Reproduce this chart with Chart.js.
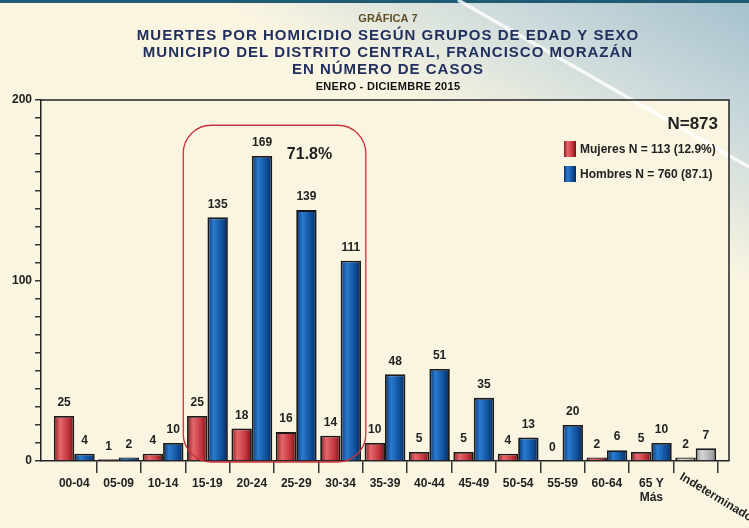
<!DOCTYPE html>
<html>
<head>
<meta charset="utf-8">
<script src="https://cdn.jsdelivr.net/npm/chart.js@4.4.1/dist/chart.umd.min.js"></script>
<style>
html, body { margin: 0; padding: 0; }
body {
	width: 749px; height: 528px; overflow: hidden;
	background:
		linear-gradient(#1f5c74, #1f5c74) top left / 100% 3px no-repeat,
		linear-gradient(208deg, rgba(160,190,204,0.95) 0px, rgba(192,211,218,0.8) 120px, rgba(250,245,225,0) 250px),
		#faf5e1;
}
#wrap { position: relative; width: 749px; height: 528px; }
</style>
</head>
<body>
<div id="wrap"><canvas id="chart1" width="749" height="528"></canvas></div>
<script>
//data
const ageGroups = ['00-04','05-09','10-14','15-19','20-24','25-29','30-34','35-39','40-44','45-49','50-54','55-59','60-64',['65 Y','Más'],'Indeterminado'];
const mujeres = [25,1,4,25,18,16,14,10,5,5,4,0,2,5,2];
const hombres = [4,2,10,135,169,139,111,48,51,35,13,20,6,10,7];
const yLabels = [0,100,200];
const legendLabels = ['Mujeres N = 113 (12.9%)','Hombres N = 760 (87.1)'];
const totalLabel = 'N=873';
const highlightRange = [3,6]; // 15-19 .. 30-34
const highlightLabel = '71.8%';
const chartKicker = 'GRÁFICA 7';
const titleLines = ['MUERTES POR HOMICIDIO SEGÚN GRUPOS DE EDAD Y SEXO','MUNICIPIO DEL DISTRITO CENTRAL, FRANCISCO MORAZÁN','EN NÚMERO DE CASOS'];
const periodLine = 'ENERO - DICIEMBRE 2015';

const FONT = "'Liberation Sans', Arial, sans-serif";
Chart.defaults.font.family = FONT;

const palettes = {
	red: ['#8a1a1f','#e4686d','#c4353c','#701216'],
	blue: ['#0a3273','#2a7bcf','#10509c','#08285a'],
	grey: ['#8c8c8c','#d6d6d6','#b2b2b2','#868686']
};
const lastIndex = ageGroups.length - 1;
const CAT_PCT = 0.92;

function barGradient(ctx, left, width, pal) {
	const g = ctx.createLinearGradient(left, 0, left + width, 0);
	g.addColorStop(0, pal[0]);
	g.addColorStop(0.3, pal[1]);
	g.addColorStop(0.7, pal[2]);
	g.addColorStop(1, pal[3]);
	return g;
}

function barFill(context) {
	const chart = context.chart;
	const xs = chart.scales.x;
	const pal = context.dataIndex === lastIndex ? palettes.grey : (context.datasetIndex === 0 ? palettes.red : palettes.blue);
	if(context.type !== 'data' || !xs || !chart.chartArea) return pal[2];
	const step = xs.getPixelForValue(1) - xs.getPixelForValue(0);
	const w = step * CAT_PCT / 2;
	const c = xs.getPixelForValue(context.dataIndex);
	if(!isFinite(c) || !isFinite(w)) return pal[2];
	const left = context.datasetIndex === 0 ? c - w : c;
	return barGradient(chart.ctx, left, w, pal);
}

//helper plugins//
const backdrop = {
	id: 'backdrop',
	beforeDraw(chart) {
		const {ctx, chartArea: a} = chart;
		ctx.save();
		ctx.fillStyle = '#faf5e1';
		ctx.fillRect(a.left, a.top, a.right - a.left, a.bottom - a.top);
		ctx.strokeStyle = 'rgba(255,255,255,0.8)';
		ctx.lineWidth = 3.5;
		ctx.beginPath();
		ctx.moveTo(458, 0);
		ctx.lineTo(chart.width, 167);
		ctx.stroke();
		ctx.restore();
	}
};

const header = {
	id: 'header',
	afterDraw(chart) {
		const {ctx, chartArea: a} = chart;
		const cx = (a.left + a.right) / 2 + 3;
		ctx.save();
		ctx.textAlign = 'center';
		ctx.textBaseline = 'middle';
		ctx.fillStyle = '#5e4e28';
		ctx.font = 'bold 11px ' + FONT;
		ctx.fillText(chartKicker, cx, 19);
		ctx.fillStyle = '#22305f';
		ctx.font = 'bold 15px ' + FONT;
		ctx.letterSpacing = '1px';
		titleLines.forEach((t, i) => ctx.fillText(t, cx, 36 + i * 17));
		ctx.letterSpacing = '0.3px';
		ctx.fillStyle = '#111';
		ctx.font = 'bold 11px ' + FONT;
		ctx.fillText(periodLine, cx, 87);
		ctx.restore();
	}
};

const frame = {
	id: 'frame',
	afterDraw(chart) {
		const {ctx, chartArea: a} = chart;
		ctx.save();
		ctx.strokeStyle = '#222';
		ctx.lineWidth = 1.5;
		ctx.beginPath();
		ctx.moveTo(a.left, a.top);
		ctx.lineTo(a.right, a.top);
		ctx.lineTo(a.right, a.bottom);
		ctx.stroke();
		ctx.restore();
	}
};

const valueLabels = {
	id: 'valueLabels',
	afterDatasetsDraw(chart) {
		const ctx = chart.ctx;
		ctx.save();
		ctx.textAlign = 'center';
		ctx.textBaseline = 'middle';
		ctx.fillStyle = '#222';
		ctx.font = 'bold 12px ' + FONT;
		chart.data.datasets.forEach((ds, di) => {
			chart.getDatasetMeta(di).data.forEach((bar, i) => {
				ctx.fillText(String(ds.data[i].y), bar.x, bar.y - 13);
			});
		});
		ctx.restore();
	}
};

const highlight = {
	id: 'highlight',
	afterDatasetsDraw(chart) {
		const {ctx, scales: {x, y}} = chart;
		const left = x.getPixelForValue(highlightRange[0] - 0.5) - 2;
		const right = x.getPixelForValue(highlightRange[1] + 0.5) + 3;
		const top = y.getPixelForValue(186);
		const bottom = y.getPixelForValue(0) + 1;
		ctx.save();
		ctx.strokeStyle = '#c8323a';
		ctx.lineWidth = 1.3;
		ctx.beginPath();
		ctx.roundRect(left, top, right - left, bottom - top, 28);
		ctx.stroke();
		ctx.fillStyle = '#222';
		ctx.font = 'bold 16px ' + FONT;
		ctx.textAlign = 'center';
		ctx.textBaseline = 'middle';
		ctx.fillText(highlightLabel, x.getPixelForValue(5.3), y.getPixelForValue(170));
		ctx.restore();
	}
};

const sideLegend = {
	id: 'sideLegend',
	afterDraw(chart) {
		const {ctx, chartArea: a} = chart;
		ctx.save();
		ctx.fillStyle = '#222';
		ctx.textBaseline = 'middle';
		ctx.textAlign = 'right';
		ctx.font = 'bold 17px ' + FONT;
		ctx.fillText(totalLabel, a.right - 11, a.top + 24);
		ctx.textAlign = 'left';
		ctx.font = 'bold 12px ' + FONT;
		const pals = [palettes.red, palettes.blue];
		legendLabels.forEach((label, i) => {
			const sx = a.right - 165, sy = a.top + 41 + i * 25;
			ctx.fillStyle = barGradient(ctx, sx, 12, pals[i]);
			ctx.fillRect(sx, sy, 12, 16);
			ctx.fillStyle = '#222';
			ctx.fillText(label, sx + 16, sy + 8.5);
		});
		ctx.restore();
	}
};

const rotatedLabel = {
	id: 'rotatedLabel',
	afterDraw(chart) {
		const {ctx, scales: {x}} = chart;
		ctx.save();
		ctx.translate(x.getPixelForValue(lastIndex) - 15, x.bottom - 52);
		ctx.rotate(31 * Math.PI / 180);
		ctx.fillStyle = '#222';
		ctx.font = 'bold 12px ' + FONT;
		ctx.textAlign = 'left';
		ctx.textBaseline = 'middle';
		ctx.fillText(ageGroups[lastIndex], 0, 0);
		ctx.restore();
	}
};

const barStyle = {
	backgroundColor: barFill,
	borderColor: '#1a1a1a',
	borderWidth: 1.8,
	barPercentage: 1,
	categoryPercentage: CAT_PCT
};

const config = {
	type: 'bar',
	data: {
		datasets: [
			Object.assign({ label: 'Mujeres', data: mujeres.map((v, i) => ({x: i, y: v})) }, barStyle),
			Object.assign({ label: 'Hombres', data: hombres.map((v, i) => ({x: i, y: v})) }, barStyle)
		]
	},
	options: {
		responsive: false,
		animation: false,
		layout: { padding: { top: 100, right: 20, left: 0, bottom: 0 } },
		plugins: {
			legend: { display: false },
			title: { display: false },
			tooltip: { enabled: false },
			colors: { enabled: false }
		},
		scales: {
			x: {
				type: 'linear',
				bounds: 'data',
				offset: false,
				min: -0.75,
				max: 14.75,
				afterBuildTicks: s => { s.ticks = ageGroups.map((g, i) => ({value: i})); },
				afterFit: s => { s.height = 67; },
				border: { color: '#222', width: 1.5 },
				grid: {
					offset: true,
					drawOnChartArea: false,
					tickLength: 12,
					lineWidth: 1.5,
					color: c => c.index === 0 ? 'rgba(0,0,0,0)' : '#333'
				},
				ticks: {
					autoSkip: false,
					maxRotation: 0,
					minRotation: 0,
					padding: 3,
					color: '#222',
					font: { size: 12, weight: 'bold' },
					callback: v => v === lastIndex ? '' : ageGroups[v]
				}
			},
			y: {
				min: 0,
				max: 200,
				afterFit: s => { s.width = 41; },
				border: { color: '#222', width: 1.5 },
				grid: { drawOnChartArea: false, tickLength: 6, lineWidth: 1.5, color: '#333' },
				ticks: {
					stepSize: 10,
					autoSkip: false,
					padding: 3,
					color: '#222',
					font: { size: 12, weight: 'bold' },
					callback: v => yLabels.includes(v) ? v : ''
				}
			}
		}
	},
	plugins: [backdrop, frame, valueLabels, highlight, sideLegend, rotatedLabel, header]
};

window.chart1 = new Chart(document.getElementById('chart1'), config);
</script>
</body>
</html>
